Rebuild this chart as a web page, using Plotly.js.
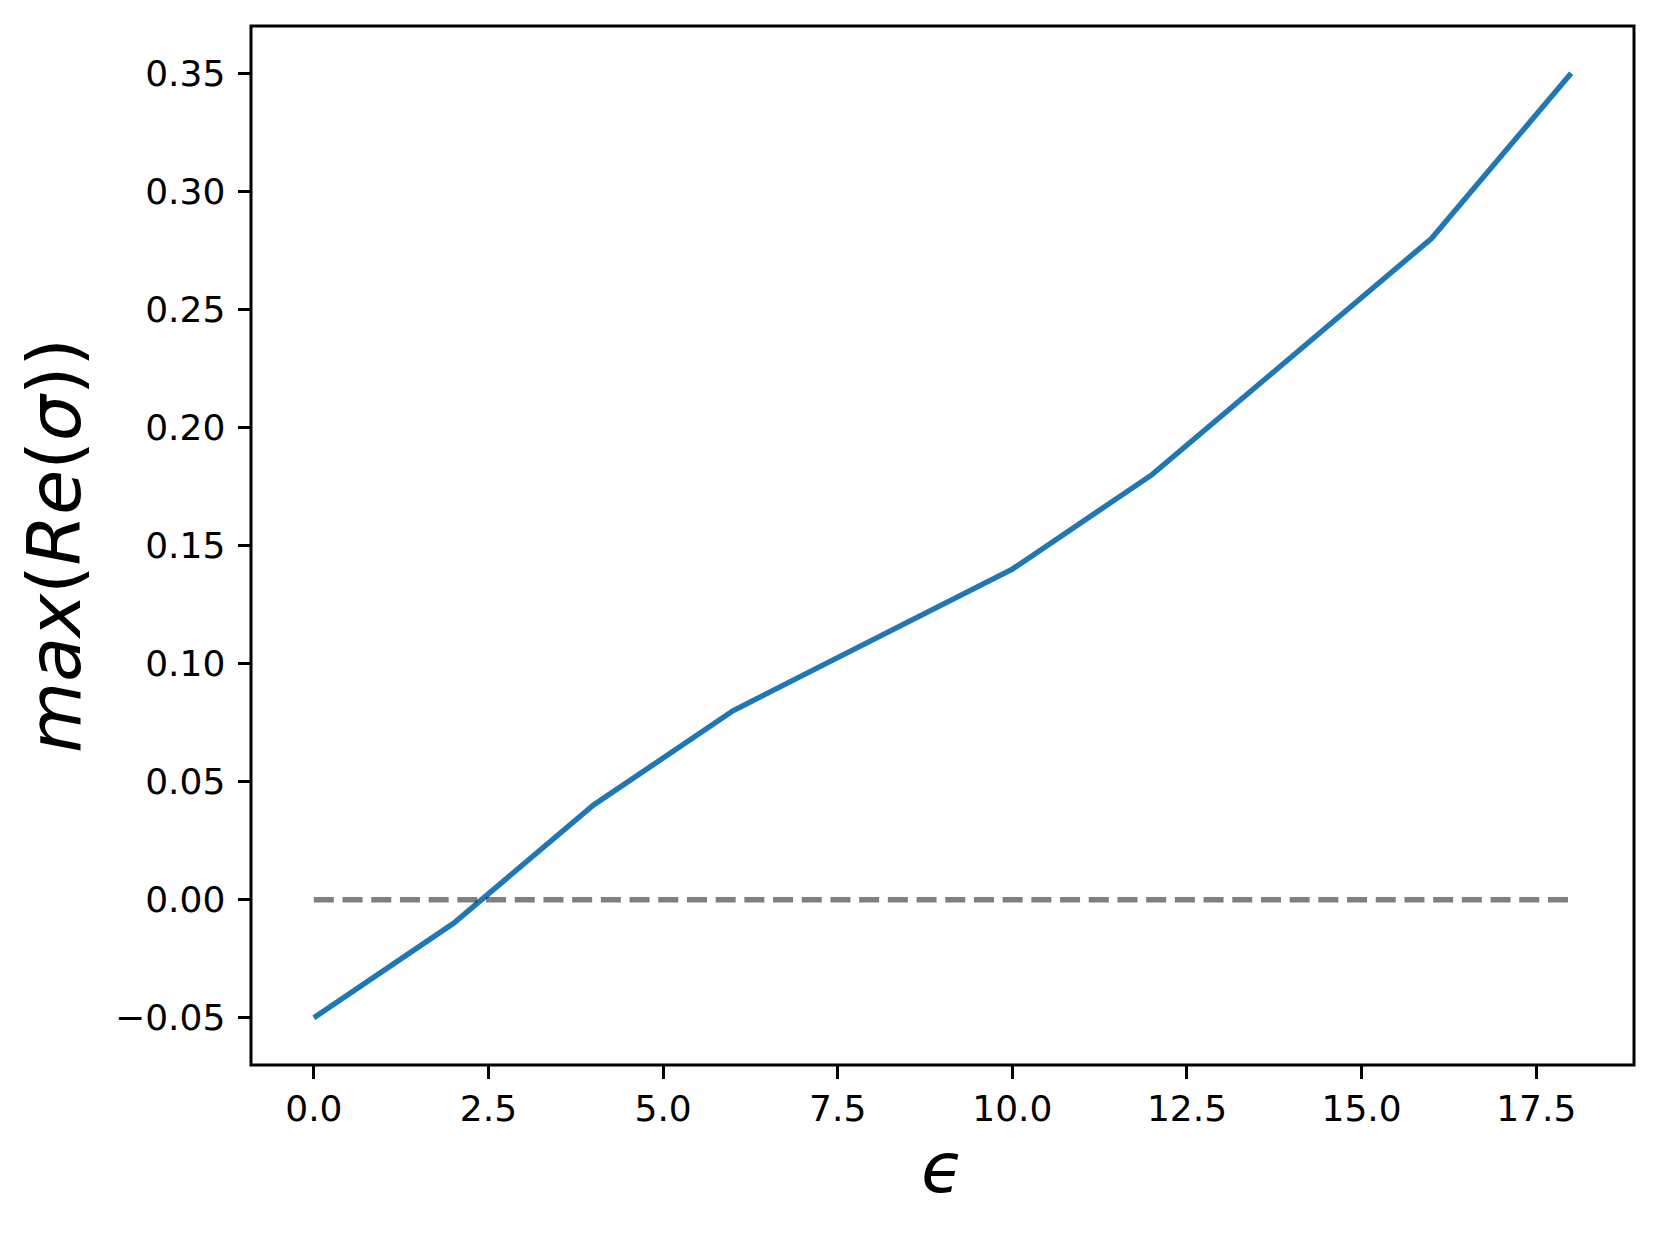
<!DOCTYPE html>
<html>
<head>
<meta charset="utf-8">
<script src="https://cdn.plot.ly/plotly-3.0.1.min.js"></script>
<style>html,body{margin:0;padding:0;background:#fff;}</style>
</head>
<body>
<div id="chart" style="width:1661px;height:1239px;"></div>
<script>
// Data
const epsilon = [0, 2, 4, 6, 8, 10, 12, 14, 16, 18];
const maxReSigma = [-0.05, -0.01, 0.04, 0.08, 0.11, 0.14, 0.18, 0.23, 0.28, 0.35];
const zeroLineX = [0, 18];
const zeroLineY = [0, 0];
const xTickVals = [0, 2.5, 5, 7.5, 10, 12.5, 15, 17.5];
const xTickText = ["0.0", "2.5", "5.0", "7.5", "10.0", "12.5", "15.0", "17.5"];
const yTickVals = [-0.05, 0, 0.05, 0.1, 0.15, 0.2, 0.25, 0.3, 0.35];
const yTickText = ["\u22120.05", "0.00", "0.05", "0.10", "0.15", "0.20", "0.25", "0.30", "0.35"];

const font = "DejaVu Sans, sans-serif";

const traces = [
  {
    x: epsilon, y: maxReSigma, type: "scatter", mode: "lines",
    line: {color: "#1f77b4", width: 5.4},
    hoverinfo: "skip", showlegend: false
  },
  {
    x: zeroLineX, y: zeroLineY, type: "scatter", mode: "lines",
    line: {color: "rgba(0,0,0,0.5)", width: 5.4, dash: "20px,8.7px"},
    hoverinfo: "skip", showlegend: false
  }
];

const axisCommon = {
  showline: false,
  ticks: "outside", ticklen: 12.5, tickwidth: 3, tickcolor: "#000",
  showgrid: false, zeroline: false,
  tickfont: {family: font, size: 36, color: "#000"}
};

const layout = {
  width: 1661, height: 1239,
  margin: {l: 250.5, r: 27, t: 25.5, b: 173.5, pad: 0},
  paper_bgcolor: "#fff", plot_bgcolor: "#fff",
  font: {family: font, color: "#000"},
  xaxis: Object.assign({}, axisCommon, {
    range: [-0.9, 18.9],
    tickmode: "array", tickvals: xTickVals, ticktext: xTickText,
    ticklabelstandoff: -1,
    title: {text: "<i>\u03f5</i>", font: {family: font, size: 70, color: "#000"}, standoff: 15}
  }),
  yaxis: Object.assign({}, axisCommon, {
    range: [-0.07, 0.37],
    tickmode: "array", tickvals: yTickVals, ticktext: yTickText,
    ticklabelstandoff: 5,
    title: {text: "<i>max</i>(<i>Re</i>(<i>\u03c3</i>))", font: {family: font, size: 73, color: "#000"}, standoff: 10}
  }),
  shapes: [
    {type: "rect", xref: "paper", yref: "paper", x0: 0, x1: 1, y0: 0, y1: 1,
     line: {color: "#000", width: 3}, fillcolor: "rgba(0,0,0,0)", layer: "above"}
  ]
};

Plotly.newPlot("chart", traces, layout, {staticPlot: true, displayModeBar: false});
</script>
</body>
</html>
